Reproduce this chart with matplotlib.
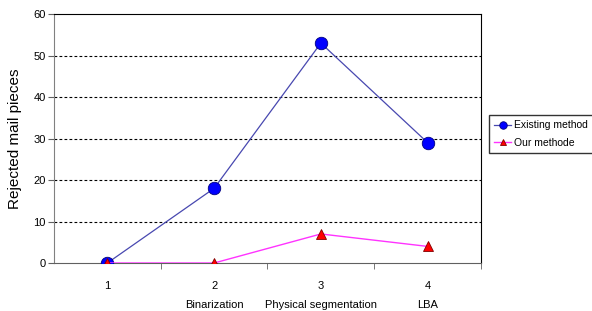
import numpy as np
import matplotlib.pyplot as plt
from matplotlib.ticker import FixedLocator

plt.rcParams['font.family'] = ['Liberation Sans', 'DejaVu Sans']

steps = [1, 2, 3, 4]
step_names = ["", "Binarization", "Physical segmentation", "LBA"]
existing = [0, 18, 53, 29]
ours = [0, 0, 7, 4]

fig = plt.figure(figsize=(5.92, 3.11), dpi=100)
ax = fig.add_axes([0.0912, 0.1543, 0.7213, 0.8006])

ax.plot(steps, existing, color='#4848b0', lw=0.9, marker='o', ms=9,
        mfc='#0000ff', mec='#000080', mew=0.6, label='Existing method', zorder=3)
ax.plot(steps, ours, color='#ff33ff', lw=1.0, marker='^', ms=7.5,
        mfc='#ff0000', mec='#800000', mew=0.6, label='Our methode', zorder=4)

ax.set_xlim(0.5, 4.5)
ax.set_ylim(0, 60)
ax.set_yticks(range(0, 61, 10))
for y in range(10, 60, 10):
    ax.axhline(y, color='black', lw=0.8, ls=(0, (2.5, 2)), zorder=1)

ax.set_xticks(steps)
ax.set_xticklabels([f"{s}\n{n}" for s, n in zip(steps, step_names)],
                   linespacing=2.1, fontsize=8)
ax.xaxis.set_minor_locator(FixedLocator([1.5, 2.5, 3.5, 4.5]))
ax.tick_params(axis='x', which='major', length=0, pad=13)
ax.tick_params(axis='x', which='minor', length=4, direction='out', color='#606060')
ax.tick_params(axis='y', length=4, direction='out', labelsize=8, color='#606060', pad=2)

ax.spines['left'].set_color('#808080')
ax.spines['bottom'].set_color('#606060')
ax.spines['top'].set_color('black')
ax.spines['right'].set_color('black')

ax.set_ylabel("Rejected mail pieces", fontsize=11, labelpad=8)

fig.legend(loc='upper left', bbox_to_anchor=(0.826, 0.63), fontsize=7.5,
           frameon=True, fancybox=False, edgecolor='black', borderpad=0.5,
           handlelength=1.6, labelspacing=0.7, handletextpad=0.3,
           borderaxespad=0, markerscale=0.6)

fig.savefig("out.png", dpi=100)
